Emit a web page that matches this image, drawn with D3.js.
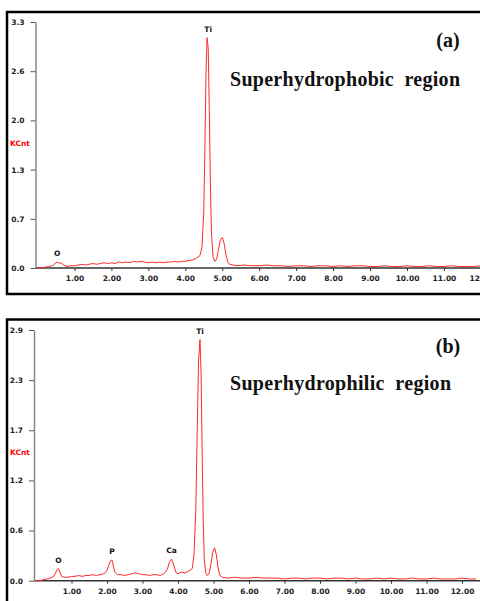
<!DOCTYPE html>
<html>
<head>
<meta charset="utf-8">
<style>
body { margin: 0; background: #fff; }
svg { display: block; }
.tick text { font-family: "DejaVu Sans", Arial, sans-serif; font-weight: bold; font-size: 7.5px; fill: #222; }
.peak { font-family: "DejaVu Sans", Arial, sans-serif; font-weight: bold; font-size: 7.5px; fill: #111; }
.ttl { font-family: "Liberation Serif", "Times New Roman", serif; font-weight: bold; fill: #111; }
</style>
</head>
<body>
<svg width="480" height="601"></svg>
<script src="https://cdn.jsdelivr.net/npm/d3@7"></script>
<script>

// ---- data ----
var energyA = [0.00,0.10,0.20,0.30,0.40,0.45,0.50,0.55,0.60,0.65,0.70,0.80,0.90,1.00,1.10,1.20,1.30,1.40,1.50,1.60,1.70,1.80,1.90,2.00,
  2.10,2.20,2.30,2.40,2.50,2.60,2.70,2.80,2.90,3.00,3.10,3.20,3.30,3.40,3.50,3.60,3.70,3.80,3.90,4.00,4.10,4.20,4.30,4.40,
  4.45,4.50,4.53,4.56,4.59,4.62,4.65,4.68,4.71,4.75,4.80,4.85,4.90,4.95,5.00,5.05,5.10,5.15,5.20,5.30,5.40,5.60,5.80,6.00,
  6.20,6.40,6.60,6.80,7.00,7.20,7.40,7.60,7.80,8.00,8.20,8.40,8.60,8.80,9.00,9.20,9.40,9.60,9.80,10.00,10.20,10.40,10.60,
  10.80,11.00,11.20,11.40,11.60,11.80,12.00,12.20,12.40];
var countsA = [0.00,0.00,0.01,0.02,0.03,0.05,0.07,0.08,0.06,0.07,0.04,0.02,0.03,0.03,0.04,0.05,0.04,0.05,0.06,0.05,0.06,0.07,0.06,0.07,
  0.06,0.08,0.07,0.08,0.07,0.09,0.08,0.09,0.08,0.07,0.08,0.07,0.08,0.07,0.08,0.08,0.09,0.08,0.09,0.09,0.10,0.11,0.13,0.17,
  0.28,0.75,1.60,2.60,3.09,2.95,2.10,1.10,0.45,0.15,0.09,0.12,0.25,0.38,0.41,0.33,0.18,0.08,0.05,0.04,0.03,0.04,0.03,0.03,
  0.04,0.03,0.03,0.02,0.03,0.03,0.02,0.03,0.03,0.02,0.03,0.02,0.03,0.03,0.02,0.02,0.03,0.02,0.02,0.03,0.02,0.02,0.03,
  0.02,0.02,0.03,0.02,0.02,0.02,0.03,0.02,0.02];

var energyB = [0.00,0.10,0.20,0.30,0.40,0.45,0.50,0.55,0.60,0.63,0.67,0.72,0.80,0.90,1.00,1.10,1.20,1.30,1.40,1.50,1.60,1.70,1.80,1.90,
  1.95,2.00,2.05,2.10,2.14,2.18,2.22,2.30,2.40,2.50,2.60,2.70,2.80,2.90,3.00,3.10,3.20,3.30,3.40,3.50,3.60,3.70,3.76,3.82,
  3.88,3.95,4.00,4.10,4.20,4.30,4.40,4.45,4.50,4.54,4.58,4.62,4.65,4.68,4.71,4.74,4.78,4.83,4.88,4.93,4.98,5.03,5.08,5.13,
  5.18,5.25,5.40,5.60,5.80,6.00,6.20,6.40,6.60,6.80,7.00,7.20,7.40,7.60,7.80,8.00,8.20,8.40,8.60,8.80,9.00,9.20,9.40,9.60,
  9.80,10.00,10.20,10.40,10.60,10.80,11.00,11.20,11.40,11.60,11.80,12.00,12.20,12.40];
var countsB = [0.00,0.00,0.01,0.02,0.03,0.04,0.05,0.09,0.13,0.14,0.10,0.05,0.04,0.04,0.05,0.05,0.06,0.05,0.06,0.06,0.07,0.06,0.07,0.08,
  0.09,0.12,0.18,0.23,0.24,0.17,0.10,0.07,0.07,0.06,0.07,0.08,0.09,0.08,0.07,0.07,0.06,0.07,0.07,0.06,0.08,0.13,0.22,0.25,
  0.18,0.09,0.08,0.10,0.09,0.11,0.14,0.30,0.80,1.70,2.55,2.79,2.40,1.50,0.70,0.25,0.09,0.06,0.09,0.20,0.33,0.38,0.30,0.15,
  0.06,0.04,0.03,0.04,0.03,0.03,0.04,0.03,0.03,0.03,0.02,0.03,0.03,0.02,0.03,0.03,0.02,0.03,0.03,0.02,0.03,0.02,0.02,0.03,
  0.02,0.03,0.02,0.02,0.03,0.02,0.02,0.03,0.02,0.02,0.02,0.03,0.02,0.02];

var xTicks = [1,2,3,4,5,6,7,8,9,10,11,12];
var yTicksA = [0,0.66,1.32,1.98,2.64,3.3];
var yTicksB = [0,0.58,1.16,1.74,2.32,2.9];

var peaksA = [{el:"O", e:0.53, v:0.08}, {el:"Ti", e:4.62, v:3.09}];
var peaksB = [{el:"O", e:0.63, v:0.14}, {el:"P", e:2.14, v:0.24}, {el:"Ca", e:3.82, v:0.25}, {el:"Ti", e:4.62, v:2.79}];

var panels = [
  {id:"a", energy:energyA, counts:countsA, yTicks:yTicksA, peaks:peaksA, letter:"(a)", title:"Superhydrophobic  region",
   box:[7,12,490,282], x0:37.5, perKeV:36.95, yTop:22, yBot:268, ymax:3.3, letterY:47, titleY:86, kcntY:146, titleW:230},
  {id:"b", energy:energyB, counts:countsB, yTicks:yTicksB, peaks:peaksB, letter:"(b)", title:"Superhydrophilic  region",
   box:[7,319.5,490,290], x0:36, perKeV:35.5, yTop:330, yBot:580.7, ymax:2.9, letterY:353, titleY:390, kcntY:455, titleW:221}
];

var svg = d3.select("svg");

panels.forEach(function(p) {
  var g = svg.append("g");

  g.append("clipPath").attr("id", "clip-" + p.id)
    .append("rect").attr("x", p.box[0]).attr("y", p.box[1]).attr("width", p.box[2]).attr("height", p.box[3]);

  var x = d3.scaleLinear().domain([0, 13]).range([p.x0, p.x0 + 13 * p.perKeV]);
  var y = d3.scaleLinear().domain([0, p.ymax]).range([p.yBot, p.yTop]);

  var inner = g.append("g").attr("clip-path", "url(#clip-" + p.id + ")");

  // x axis
  var xa = inner.append("g")
    .attr("transform", "translate(0," + p.yBot + ")")
    .call(d3.axisBottom(x).tickValues(xTicks).tickFormat(d3.format(".2f")).tickSize(3).tickSizeOuter(0).tickPadding(5));
  xa.select(".domain").remove();
  xa.selectAll(".tick line").attr("stroke", "#333");
  inner.append("line")
    .attr("x1", p.x0 - 2).attr("x2", 480)
    .attr("y1", p.yBot).attr("y2", p.yBot)
    .attr("stroke", "#333").attr("stroke-width", 1.5);

  // y axis
  var ya = inner.append("g")
    .attr("transform", "translate(" + (p.x0 - 2) + ",0)")
    .call(d3.axisLeft(y).tickValues(p.yTicks).tickFormat(d3.format(".1f")).tickSize(5).tickSizeOuter(0).tickPadding(6));
  ya.select(".domain").attr("stroke", "#888").attr("stroke-width", 1.5);
  ya.selectAll(".tick line").attr("stroke", "#555");

  inner.append("text")
    .attr("x", 10).attr("y", p.kcntY)
    .style("font-family", "DejaVu Sans, Arial, sans-serif")
    .style("font-weight", "bold").style("font-size", "7.5px")
    .attr("fill", "#ff0000").text("KCnt");

  // spectrum
  var line = d3.line()
    .x(function(d, i) { return x(p.energy[i]); })
    .y(function(d) { return y(d); });
  inner.append("path")
    .datum(p.counts)
    .attr("d", line)
    .attr("fill", "none")
    .attr("stroke", "#ff2a2a")
    .attr("stroke-width", 1);

  // peak labels
  inner.selectAll(".peak")
    .data(p.peaks)
    .enter().append("text")
      .attr("class", "peak")
      .attr("x", function(d) { return x(d.e); })
      .attr("y", function(d) { return y(d.v) - 6; })
      .attr("text-anchor", "middle")
      .text(function(d) { return d.el; });

  inner.append("text").attr("class", "ttl")
    .attr("x", 448).attr("y", p.letterY)
    .attr("text-anchor", "middle").style("font-size", "20px")
    .text(p.letter);

  inner.append("text").attr("class", "ttl")
    .attr("x", 230).attr("y", p.titleY)
    .style("font-size", "20px").style("white-space", "pre")
    .attr("textLength", p.titleW).attr("lengthAdjust", "spacing")
    .text(p.title);

  // frame
  g.append("rect")
    .attr("x", p.box[0]).attr("y", p.box[1]).attr("width", p.box[2]).attr("height", p.box[3])
    .attr("fill", "none").attr("stroke", "#000").attr("stroke-width", 2.5);
});

</script>
</body>
</html>
